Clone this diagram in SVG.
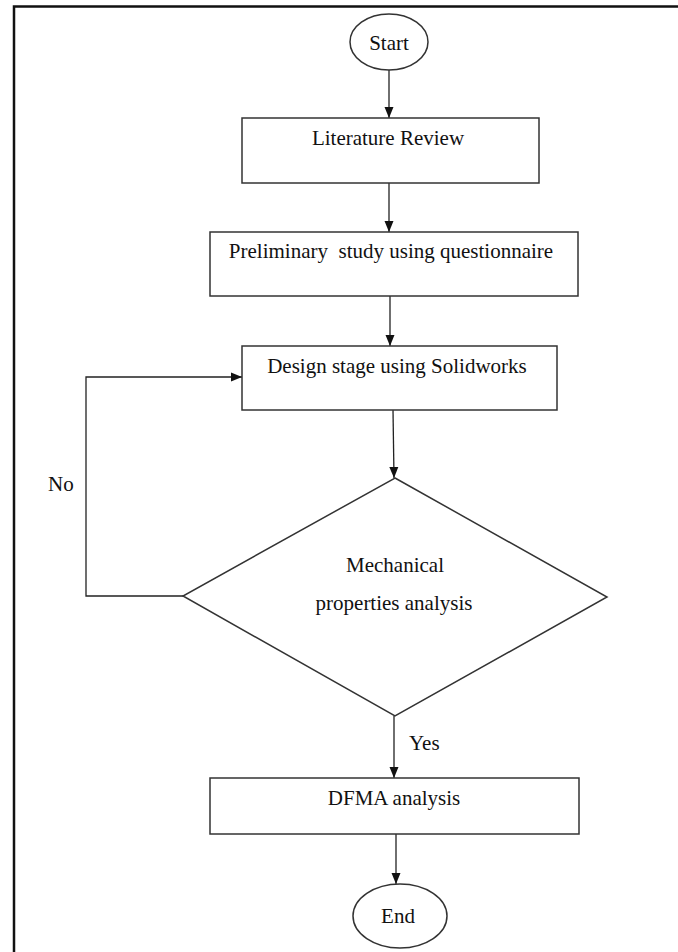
<svg xmlns="http://www.w3.org/2000/svg" width="678" height="952" viewBox="0 0 678 952">
<style>
.shape{fill:#fff;stroke:#333;stroke-width:1.5}
.line{fill:none;stroke:#222;stroke-width:1.3}
.t{font-family:"Liberation Serif","Times New Roman",serif;font-size:21px;fill:#111;text-anchor:middle}
.tl{font-family:"Liberation Serif","Times New Roman",serif;font-size:21px;fill:#111}
</style>
<defs>
<marker id="ah" markerUnits="userSpaceOnUse" markerWidth="11" markerHeight="11" viewBox="0 0 11 11" refX="11" refY="5.5" orient="auto">
<path d="M0,1 L11,5.5 L0,10 z" fill="#111"/>
</marker>
</defs>
<rect x="0" y="0" width="678" height="952" fill="#fff"/>
<rect x="14" y="6.5" width="690" height="970" fill="none" stroke="#111" stroke-width="2.5"/>
<g id="connectors">
<line class="line" x1="389" y1="70" x2="389" y2="118" marker-end="url(#ah)"/>
<line class="line" x1="389" y1="183" x2="389" y2="232" marker-end="url(#ah)"/>
<line class="line" x1="390" y1="296" x2="390" y2="346" marker-end="url(#ah)"/>
<line class="line" x1="393" y1="410" x2="394" y2="478" marker-end="url(#ah)"/>
<line class="line" x1="394" y1="716" x2="394" y2="778" marker-end="url(#ah)"/>
<line class="line" x1="396" y1="834" x2="396" y2="884" marker-end="url(#ah)"/>
<polyline class="line" points="183,596 86,596 86,377 242,377" marker-end="url(#ah)"/>
<text class="tl" x="48" y="491">No</text>
<text class="tl" x="409" y="750">Yes</text>
</g>
<g id="start">
<ellipse class="shape" cx="389" cy="42" rx="39" ry="28"/>
<text class="t" x="389" y="50">Start</text>
</g>
<g id="literature">
<rect class="shape" x="242" y="118" width="297" height="65"/>
<text class="t" x="388" y="145">Literature Review</text>
</g>
<g id="preliminary">
<rect class="shape" x="210" y="232" width="368" height="64"/>
<text class="t" x="391" y="258" xml:space="preserve">Preliminary  study using questionnaire</text>
</g>
<g id="design">
<rect class="shape" x="242" y="346" width="315" height="64"/>
<text class="t" x="397" y="373">Design stage using Solidworks</text>
</g>
<g id="decision">
<polygon class="shape" points="395,478 607,597 395,716 183,596"/>
<text class="t" x="395" y="572">Mechanical</text>
<text class="t" x="394" y="610">properties analysis</text>
</g>
<g id="dfma">
<rect class="shape" x="210" y="778" width="369" height="56"/>
<text class="t" x="394" y="805">DFMA analysis</text>
</g>
<g id="end">
<ellipse class="shape" cx="400" cy="916" rx="47" ry="32"/>
<text class="t" x="398" y="923">End</text>
</g>
</svg>
